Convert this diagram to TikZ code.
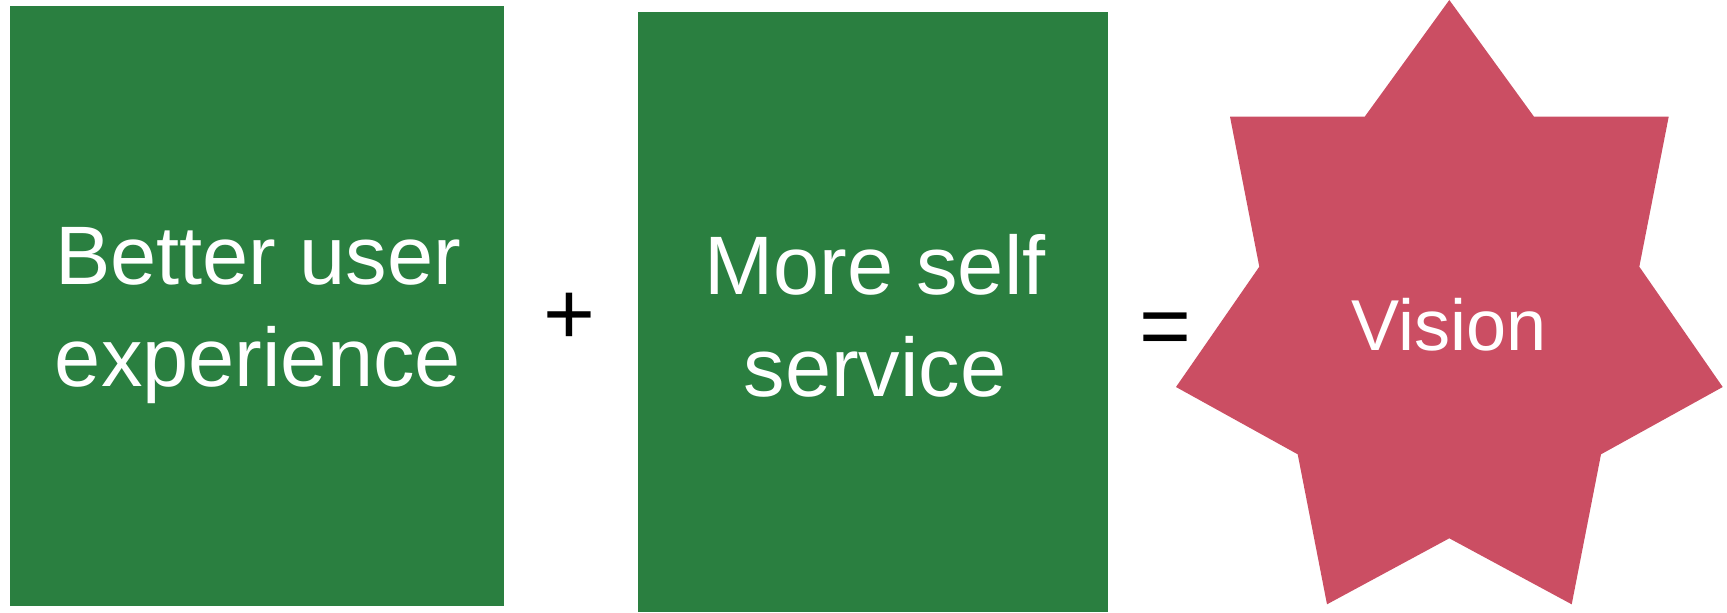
\documentclass[tikz,border=0pt]{standalone}
\usepackage{fontspec}
\setmainfont{Liberation Sans}
\definecolor{tilegreen}{HTML}{2A7F40}
\definecolor{starpink}{HTML}{CB4E63}
\tikzset{>=latex}
\tikzset{
	tiletext/.style = {text = white, align = center, inner sep = 0pt, font = \fontsize{23.6}{28.9}\selectfont},
	signtext/.style = {anchor = base, inner sep = 0pt, font = \fontsize{25.3}{30}\selectfont}
}

\begin{document}
\begin{tikzpicture}[x = 0.01cm, y = -0.01cm]
	\useasboundingbox (0, 0) rectangle (1727, 612);
	\fill[tilegreen] (10, 6) rectangle (504, 606);
	\fill[tilegreen] (638, 12) rectangle (1108, 612);
	\fill[starpink] (1449.3, 0) -- (1534, 116.7) -- (1668.7, 116.7) -- (1639.3, 266.7) -- (1722.7, 387)
		-- (1601, 454.3) -- (1571.7, 604.3) -- (1449.3, 538.3) -- (1327, 604.3) -- (1297.7, 454.3)
		-- (1176, 387) -- (1259.3, 266.7) -- (1230, 116.7) -- (1364.7, 116.7) -- cycle;
	\node[tiletext] (ux) at (258, 315.5) {Better user\\experience};
	\node[tiletext] (selfservice) at (875, 315.7) {More self\\service};
	\node[signtext] (plus) at (569, 344) {+};
	\node[signtext] (equals) at (1165.5, 356) {=};
	\node[anchor = base, inner sep = 0pt, text = white, font = \fontsize{20.5}{25}\selectfont] (vision) at (1449.3, 350) {Vision};
\end{tikzpicture}
\end{document}
